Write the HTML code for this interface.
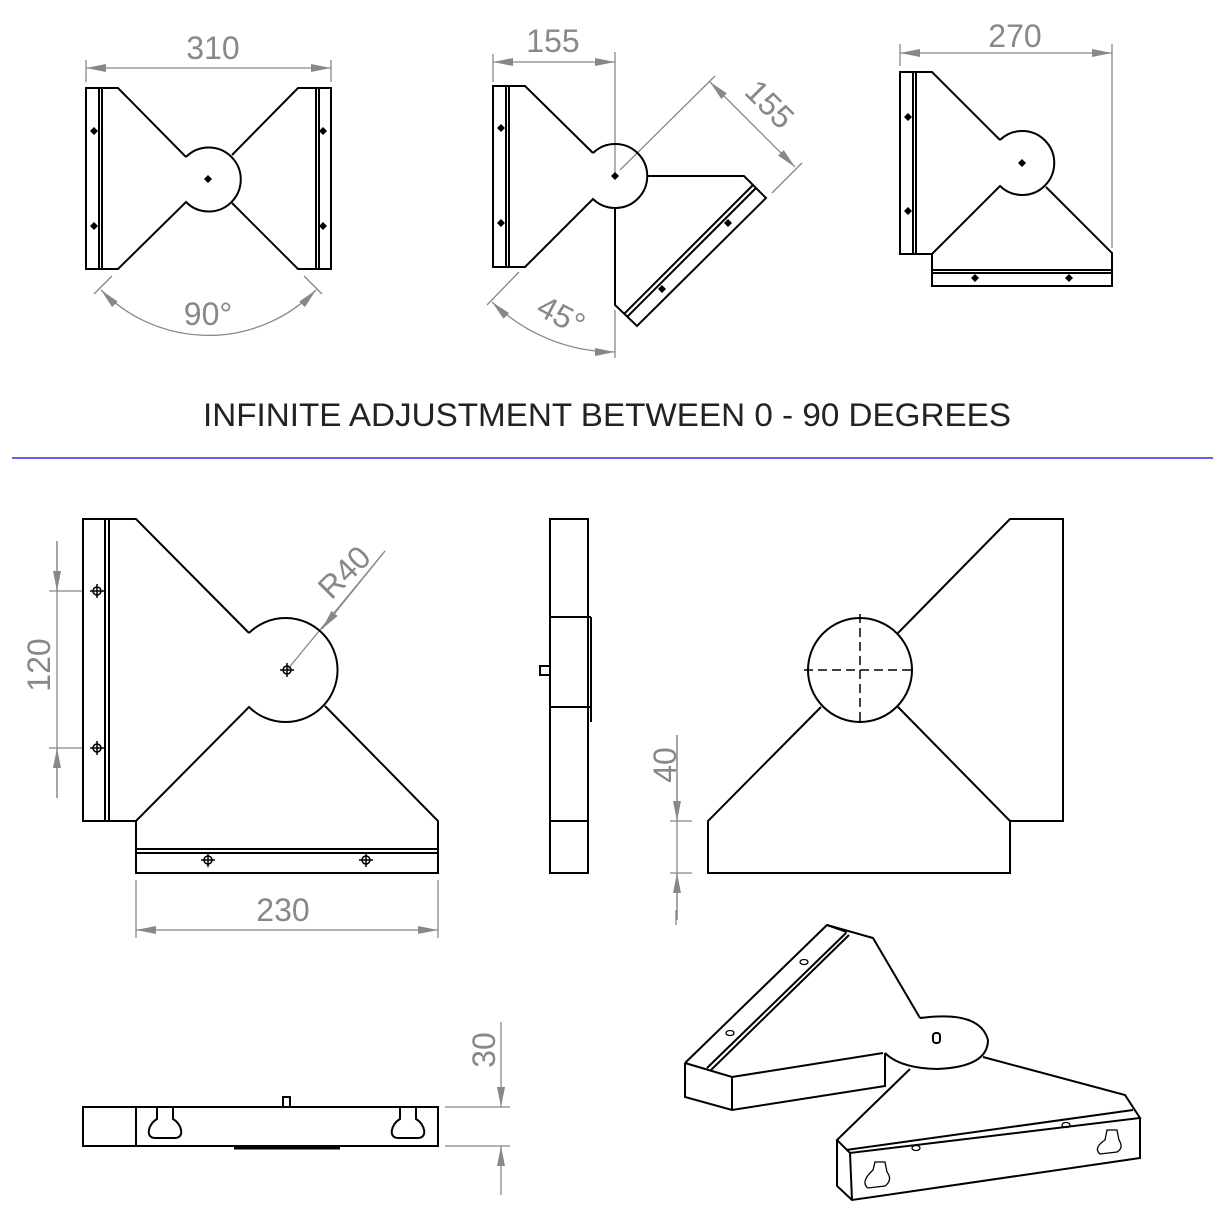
<!DOCTYPE html>
<html><head><meta charset="utf-8"><style>html,body{margin:0;padding:0;background:#fff}svg{display:block}</style></head>
<body>
<svg width="1220" height="1220" viewBox="0 0 1220 1220" xmlns="http://www.w3.org/2000/svg">
<defs>
<marker id="a" viewBox="0 0 20 8" refX="20" refY="4" markerWidth="20" markerHeight="8" markerUnits="userSpaceOnUse" orient="auto-start-reverse"><path d="M0,0 L20,4 L0,8 Z" fill="#888"/></marker>
</defs>
<g font-family="'Liberation Sans',sans-serif" fill="#888" font-size="32">
<text x="213" y="59" text-anchor="middle">310</text>
<text x="553" y="52" text-anchor="middle">155</text>
<text x="1015" y="47" text-anchor="middle">270</text>
<text x="208" y="325" text-anchor="middle">90°</text>
<text transform="translate(762,112) rotate(45)" text-anchor="middle">155</text>
<text transform="translate(556,325) rotate(28)" text-anchor="middle">45°</text>
<text transform="translate(50,665) rotate(-90)" text-anchor="middle">120</text>
<text transform="translate(352,580) rotate(-45)" text-anchor="middle">R40</text>
<text x="283" y="921" text-anchor="middle">230</text>
<text transform="translate(676,765) rotate(-90)" text-anchor="middle">40</text>
<text transform="translate(495,1050) rotate(-90)" text-anchor="middle">30</text>
</g>
<text x="607" y="426" text-anchor="middle" font-family="'Liberation Sans',sans-serif" font-size="32" fill="#222" textLength="808" lengthAdjust="spacingAndGlyphs">INFINITE ADJUSTMENT BETWEEN 0 - 90 DEGREES</text>
<line x1="12" y1="458" x2="1213" y2="458" stroke="#2a2ae6" stroke-width="1.5"/>

<g stroke="#888" stroke-width="1.3" fill="none">
<line x1="86" y1="60" x2="86" y2="82"/><line x1="331" y1="60" x2="331" y2="82"/>
<line x1="86" y1="68" x2="331" y2="68" marker-start="url(#a)" marker-end="url(#a)"/>
<line x1="112" y1="276" x2="94" y2="294"/><line x1="304" y1="276" x2="322" y2="294"/>
<path d="M101,290 A150,150 0 0 0 316,290" marker-start="url(#a)" marker-end="url(#a)"/>
<line x1="493" y1="54" x2="493" y2="82"/>
<line x1="615" y1="52" x2="615" y2="176"/><line x1="615" y1="310" x2="615" y2="358"/>
<line x1="493" y1="62" x2="615" y2="62" marker-start="url(#a)" marker-end="url(#a)"/>
<line x1="620" y1="170" x2="715" y2="76"/><line x1="772" y1="193" x2="802" y2="163"/>
<line x1="710" y1="82" x2="795" y2="167" marker-start="url(#a)" marker-end="url(#a)"/>
<line x1="519" y1="272" x2="487" y2="305"/>
<path d="M492,302 A176,176 0 0 0 615,352" marker-start="url(#a)" marker-end="url(#a)"/>
<line x1="900" y1="44" x2="900" y2="66"/><line x1="1112" y1="44" x2="1112" y2="248"/>
<line x1="900" y1="53" x2="1112" y2="53" marker-start="url(#a)" marker-end="url(#a)"/>
<line x1="49" y1="591" x2="82" y2="591"/><line x1="49" y1="748" x2="82" y2="748"/>
<line x1="57" y1="541" x2="57" y2="798"/>
<line x1="57" y1="541" x2="57" y2="591" marker-end="url(#a)"/><line x1="57" y1="798" x2="57" y2="748" marker-end="url(#a)"/>
<line x1="287" y1="670" x2="385" y2="551"/><line x1="385" y1="551" x2="322" y2="629" marker-end="url(#a)"/>
<line x1="136" y1="880" x2="136" y2="938"/><line x1="438" y1="880" x2="438" y2="938"/>
<line x1="136" y1="930" x2="438" y2="930" marker-start="url(#a)" marker-end="url(#a)"/>
<line x1="670" y1="821" x2="692" y2="821"/><line x1="670" y1="873" x2="692" y2="873"/>
<line x1="677" y1="735" x2="677" y2="920"/>
<line x1="677" y1="735" x2="677" y2="821" marker-end="url(#a)"/><line x1="677" y1="920" x2="677" y2="873" marker-end="url(#a)"/>
<line x1="445" y1="1107" x2="510" y2="1107"/><line x1="445" y1="1146" x2="510" y2="1146"/>
<line x1="501" y1="1022" x2="501" y2="1107" marker-end="url(#a)"/><line x1="501" y1="1195" x2="501" y2="1146" marker-end="url(#a)"/>
<line x1="676" y1="910" x2="676" y2="925"/>
</g>

<g stroke="#000" stroke-width="2" fill="none" stroke-linejoin="miter">
<path d="M186,157 L118,88 L86,88 L86,269 L118,269 L186,202 A32,32 0 1 0 186,157"/>
<line x1="99" y1="88" x2="99" y2="269"/><line x1="102" y1="88" x2="102" y2="269"/>
<path d="M232,155 L298,88 L331,88 L331,269 L298,269 L232,203"/>
<line x1="319" y1="88" x2="319" y2="269"/><line x1="316" y1="88" x2="316" y2="269"/>
<path d="M593,153 L525,86 L493,86 L493,267 L525,267 L593,199 A32,32 0 1 0 593,153"/>
<line x1="506" y1="86" x2="506" y2="267"/><line x1="509" y1="86" x2="509" y2="267"/>
<path d="M647,176 L744,176 L766,198 L637,326 L615,305 L615,208"/>
<line x1="756" y1="188" x2="627" y2="317"/><line x1="753" y1="185" x2="624" y2="314"/>
<path d="M1000,140 L932,72 L900,72 L900,254 L932,254 L1000,186 A32,32 0 1 0 1000,140"/>
<line x1="913" y1="72" x2="913" y2="254"/><line x1="916" y1="72" x2="916" y2="254"/>
<path d="M932,254 L932,286 L1112,286 L1112,253 L1046,187"/>
<line x1="932" y1="270" x2="1112" y2="270"/><line x1="932" y1="273" x2="1112" y2="273"/>
<path d="M249,633 L136,519 L83,519 L83,821 L136,821 L249,707 A52,52 0 1 0 249,633"/>
<line x1="105" y1="519" x2="105" y2="821"/><line x1="109" y1="519" x2="109" y2="821"/>
<path d="M136,821 L136,873 L438,873 L438,821 L325,706"/>
<line x1="136" y1="849" x2="438" y2="849"/><line x1="136" y1="853" x2="438" y2="853"/>
<rect x="550" y="519" width="38" height="354"/>
<line x1="550" y1="617" x2="591" y2="617"/><line x1="550" y1="707" x2="591" y2="707"/><line x1="550" y1="821" x2="588" y2="821"/>
<line x1="591" y1="617" x2="591" y2="722"/>
<rect x="540" y="666" width="10" height="9"/>
<path d="M898,633 L1010,519 L1063,519 L1063,821 L1010,821 L1010,873 L708,873 L708,821 L821,707"/>
<line x1="1010" y1="821" x2="898" y2="707"/>
<circle cx="860" cy="670" r="52"/>
<rect x="83" y="1107" width="355" height="39"/>
<line x1="136" y1="1107" x2="136" y2="1146"/>
<rect x="283" y="1097" width="7" height="10"/>
<path d="M157,1107 L157,1119 C148,1124 145,1138 155,1138 L175,1138 C185,1138 182,1124 173,1119 L173,1107"/>
<path d="M400,1107 L400,1119 C391,1124 388,1138 398,1138 L418,1138 C428,1138 425,1124 416,1119 L416,1107"/>
<line x1="234" y1="1148" x2="340" y2="1148" stroke-width="3"/>
<path d="M685,1063 L827,925 L873,938 L920,1018"/>
<line x1="827" y1="925" x2="847" y2="932"/>
<line x1="707" y1="1068" x2="846" y2="933"/><line x1="711" y1="1070" x2="849" y2="935"/>
<path d="M685,1063 L732,1077 L883,1053 M685,1063 L685,1097 L732,1110 L885,1086 L885,1053 M732,1077 L732,1110"/>
<path d="M920,1018 Q980,1010 988,1040 Q988,1067 937,1069 Q900,1068 885,1053"/>
<path d="M910,1069 L837,1140 L850,1153 L1140,1118 L1125,1095 L983,1057"/>
<path d="M837,1140 L837,1186 L852,1200 L1140,1158 L1140,1118 M850,1153 L852,1200"/>
<line x1="846" y1="1150" x2="1133" y2="1110"/>
<rect x="933" y="1033" width="7" height="10" rx="3"/>
</g>
<g stroke="#000" stroke-width="1.3" fill="none">
<ellipse cx="804" cy="962" rx="4" ry="2.5"/><ellipse cx="730" cy="1033" rx="4" ry="2.5"/>
<ellipse cx="916" cy="1148" rx="4" ry="2.5"/><ellipse cx="1066" cy="1125" rx="4" ry="2.5"/>
<path d="M873,1170 L875,1162 L885,1162 L887,1172 Q893,1180 885,1186 L868,1188 Q860,1182 873,1170Z"/>
<path d="M1105,1140 L1107,1130 L1117,1130 L1119,1140 Q1124,1148 1117,1152 L1100,1154 Q1093,1148 1105,1140Z"/>
</g>
<g fill="#000">
<path d="M94,127 L98,131 L94,135 L90,131Z M94,222 L98,226 L94,230 L90,226Z M323,127 L327,131 L323,135 L319,131Z M323,222 L327,226 L323,230 L319,226Z M208,175 L212,179 L208,183 L204,179Z"/>
<path d="M501,124 L505,128 L501,132 L497,128Z M501,219 L505,223 L501,227 L497,223Z M615,172 L619,176 L615,180 L611,176Z M728,219 L732,223 L728,227 L724,223Z M662,285 L666,289 L662,293 L658,289Z"/>
<path d="M908,113 L912,117 L908,121 L904,117Z M908,207 L912,211 L908,215 L904,211Z M1022,159 L1026,163 L1022,167 L1018,163Z M975,274 L979,278 L975,282 L971,278Z M1069,274 L1073,278 L1069,282 L1065,278Z"/>
</g>
<g stroke="#000" stroke-width="1.5" fill="none">
<circle cx="97" cy="591" r="4"/><line x1="90" y1="591" x2="104" y2="591"/><line x1="97" y1="584" x2="97" y2="598"/>
<circle cx="97" cy="748" r="4"/><line x1="90" y1="748" x2="104" y2="748"/><line x1="97" y1="741" x2="97" y2="755"/>
<circle cx="208" cy="860" r="4"/><line x1="201" y1="860" x2="215" y2="860"/><line x1="208" y1="853" x2="208" y2="867"/>
<circle cx="366" cy="860" r="4"/><line x1="359" y1="860" x2="373" y2="860"/><line x1="366" y1="853" x2="366" y2="867"/>
<circle cx="287" cy="670" r="4"/><line x1="280" y1="670" x2="294" y2="670"/><line x1="287" y1="663" x2="287" y2="677"/>
</g>
<g stroke="#000" stroke-width="1.5" stroke-dasharray="9,5">
<line x1="804" y1="670" x2="916" y2="670"/><line x1="860" y1="614" x2="860" y2="726"/>
</g>
</svg>
</body></html>
